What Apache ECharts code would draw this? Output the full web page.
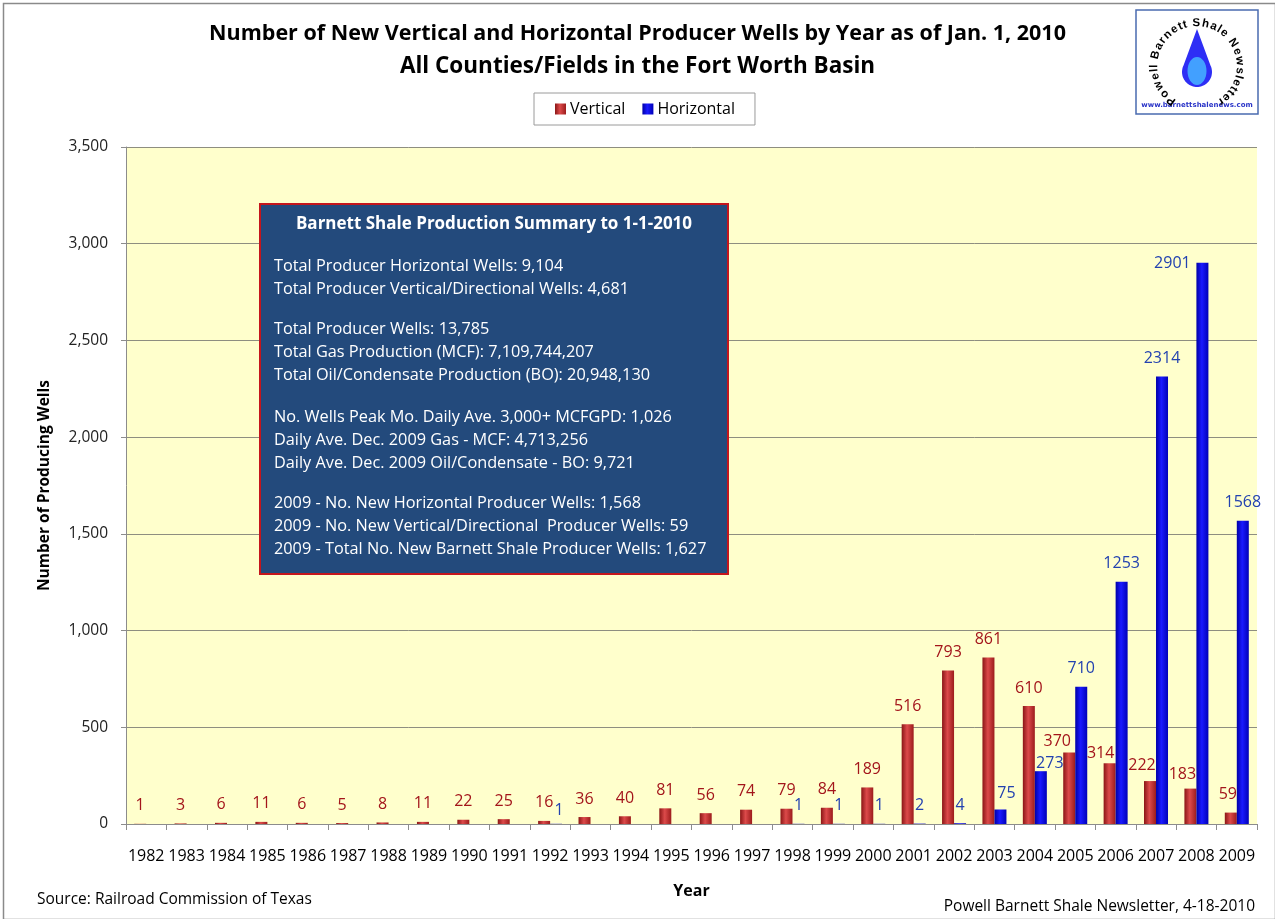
<!DOCTYPE html>
<html>
<head>
<meta charset="utf-8">
<script src="https://cdn.jsdelivr.net/npm/echarts@6/dist/echarts.min.js"></script>
<style>
html,body{margin:0;padding:0;background:#fff;}
#chart{width:1275px;height:919px;}
</style>
</head>
<body>
<div id="chart"></div>
<script>
// ---- data ----
const years = ['1982','1983','1984','1985','1986','1987','1988','1989','1990','1991','1992','1993','1994','1995','1996','1997','1998','1999','2000','2001','2002','2003','2004','2005','2006','2007','2008','2009'];
const vertical = [1,3,6,11,6,5,8,11,22,25,16,36,40,81,56,74,79,84,189,516,793,861,610,370,314,222,183,59];
const horizontal = [null,null,null,null,null,null,null,null,null,null,1,null,null,null,null,null,1,1,1,2,4,75,273,710,1253,2314,2901,1568];
const yTicks = [0,500,1000,1500,2000,2500,3000,3500];

const summaryTitle = 'Barnett Shale Production Summary to 1-1-2010';
const summaryLines = [
  ['Total Producer Horizontal Wells: 9,104','Total Producer Vertical/Directional Wells: 4,681'],
  ['Total Producer Wells: 13,785','Total Gas Production (MCF): 7,109,744,207','Total Oil/Condensate Production (BO): 20,948,130'],
  ['No. Wells Peak Mo. Daily Ave. 3,000+ MCFGPD: 1,026','Daily Ave. Dec. 2009 Gas - MCF: 4,713,256','Daily Ave. Dec. 2009 Oil/Condensate - BO: 9,721'],
  ['2009 - No. New Horizontal Producer Wells: 1,568','2009 - No. New Vertical/Directional  Producer Wells: 59','2009 - Total No. New Barnett Shale Producer Wells: 1,627']
];

// label nudges (pixels) to mimic the hand-placed labels of the original
const redLabelShift = {'2005':[-12,7],'2006':[-9,8],'2007':[-8,2],'2008':[-8,4],'2009':[-3,0]};
const blueLabelShift = {'1992':[3,5],'2003':[6,2],'2004':[9,10],'2008':[-30,19]};

const FONT = '"Open Sans", "Noto Sans", sans-serif';
const chart = echarts.init(document.getElementById('chart'));

function grad(c0, c1, c2){
  return new echarts.graphic.LinearGradient(0,0,1,0,[
    {offset:0,color:c0},{offset:0.45,color:c1},{offset:1,color:c2}]);
}
const redFill = grad('#8a1616','#dc4a4a','#9c1c1c');
const blueFill = grad('#0000a8','#1a1aff','#0000b8');

function build(arr, shift){
  return arr.map((v,i)=>{
    const s = shift[years[i]];
    if (v === null) return {value:null};
    return s ? {value:v, label:{offset:s}} : {value:v};
  });
}

// summary box graphic
const boxX = 260, boxY = 204, boxW = 468, boxH = 370;
const boxChildren = [
  {type:'rect', z:100, shape:{x:0,y:0,width:boxW,height:boxH},
   style:{fill:'#234a7c', stroke:'#c4161c', lineWidth:2}},
  {type:'text', z:101, x:boxW/2, y:20, style:{text:summaryTitle, fill:'#fff',
    font:'bold 17px '+FONT, align:'center', verticalAlign:'middle'}}
];
const groupStarts = [62, 125, 213, 299];
summaryLines.forEach((grp,gi)=>{
  grp.forEach((t,li)=>{
    boxChildren.push({type:'text', z:101, x:14, y:groupStarts[gi]+li*23,
      style:{text:t, fill:'#fff', font:'16.3px '+FONT, align:'left', verticalAlign:'middle'}});
  });
});

// logo graphic
const logoX = 1136, logoY = 10, logoW = 122, logoH = 104;
const lcx = logoW/2, lcy = 52;
const arcText = 'Powell Barnett Shale Newsletter';
// teardrop outline (decorative shape of the logo)
const dropPts = [[lcx, lcy-33]];
for (let a=-25;a<=205;a+=5){
  const rad = a*Math.PI/180;
  dropPts.push([lcx + 15*Math.cos(rad), lcy + 10 + 15*Math.sin(rad)]);
}
const logoChildren = [
  {type:'rect', z:100, shape:{x:0,y:0,width:logoW,height:logoH}, style:{fill:'#fff', stroke:'#4a6bb0', lineWidth:1.5}},
  {type:'polygon', z:101, shape:{points:dropPts}, style:{fill:'#2e2ef5'}},
  {type:'ellipse', z:102, shape:{cx:lcx, cy:lcy+9, rx:9.5, ry:14}, style:{fill:'#42a0ff'}},
  {type:'text', z:101, x:lcx, y:logoH-9, style:{text:'www.barnettshalenews.com', fill:'#2b35c8',
    font:'bold 7px "DejaVu Sans", sans-serif', align:'center', verticalAlign:'middle'}}
];
(function(){
  const r = 43, start = -150, end = 150;
  const font = 'bold 11.5px "Liberation Sans", Arial, sans-serif';
  const ctx = document.createElement('canvas').getContext('2d');
  ctx.font = font;
  const w = arcText.split('').map(c=>ctx.measureText(c).width);
  const total = w.reduce((a,b)=>a+b,0);
  let acc = 0;
  for (let i=0;i<arcText.length;i++){
    const mid = (acc + w[i]/2)/total;
    acc += w[i];
    const th = (start + (end-start)*mid) * Math.PI/180;
    logoChildren.push({type:'text', z:103, x:lcx + r*Math.sin(th), y:lcy + 4 - r*Math.cos(th), rotation:-th,
      style:{text:arcText[i], fill:'#000', font:font, align:'center', verticalAlign:'middle'}});
  }
})();

const option = {
  animation:false,
  backgroundColor:'#fff',
  textStyle:{fontFamily:FONT},
  title:[
    {text:'Number of New Vertical and Horizontal Producer Wells by Year as of Jan. 1, 2010',
     left:'center', top:18, textStyle:{fontSize:21.5, fontWeight:'bold', color:'#000', fontFamily:FONT}},
    {text:'All Counties/Fields in the Fort Worth Basin',
     left:'center', top:50, textStyle:{fontSize:22.5, fontWeight:'bold', color:'#000', fontFamily:FONT}}
  ],
  legend:{
    data:['Vertical','Horizontal'], left:534, top:93, orient:'horizontal',
    padding:[8,20,8,21], borderColor:'#9a9a9a', borderWidth:1, backgroundColor:'#fff',
    itemWidth:11, itemHeight:11, itemGap:17, icon:'rect',
    textStyle:{fontSize:16, color:'#000', fontFamily:FONT, padding:[0,0,0,-1]}
  },
  grid:{left:126, right:18, top:147, bottom:95, show:true, backgroundColor:'#ffffcc', borderWidth:0},
  xAxis:{
    type:'category', data:years,
    name:'Year', nameLocation:'middle', nameGap:59,
    nameTextStyle:{fontSize:16, fontWeight:'bold', color:'#000', fontFamily:FONT},
    axisLine:{lineStyle:{color:'#8c8c8c'}},
    axisTick:{show:true, length:6, lineStyle:{color:'#8c8c8c'}},
    axisLabel:{interval:0, fontSize:16, color:'#000', margin:24, fontFamily:FONT}
  },
  yAxis:{
    type:'value', min:0, max:3500, interval:500,
    name:'Number of Producing Wells', nameLocation:'middle', nameRotate:90, nameGap:73,
    nameTextStyle:{fontSize:15.5, fontWeight:'bold', color:'#000', fontFamily:FONT},
    axisLine:{show:true, lineStyle:{color:'#8c8c8c'}},
    axisTick:{show:true, length:5, lineStyle:{color:'#8c8c8c'}},
    splitLine:{lineStyle:{color:'#8e8e80', width:1}},
    axisLabel:{fontSize:15.5, color:'#222', margin:18, fontFamily:FONT,
      formatter:v=> yTicks.indexOf(v)>=0 ? v.toLocaleString('en-US') : ''}
  },
  series:[
    {name:'Vertical', type:'bar', barWidth:12, barGap:'0%', data:build(vertical, redLabelShift),
     itemStyle:{color:redFill},
     label:{show:true, position:'top', distance:10, fontSize:16, color:'#a3151b', fontFamily:FONT}},
    {name:'Horizontal', type:'bar', barWidth:12, barGap:'0%', data:build(horizontal, blueLabelShift),
     itemStyle:{color:blueFill},
     label:{show:true, position:'top', distance:10, fontSize:16, color:'#2342b0', fontFamily:FONT}}
  ],
  graphic:[
    {type:'rect', left:1, top:1, shape:{x:0,y:0,width:1272,height:916}, silent:true, z:-10,
     style:{fill:'none', stroke:'#8a8a8a', lineWidth:1.5}},
    {type:'group', x:boxX, y:boxY, children:boxChildren, z:100},
    {type:'group', x:logoX, y:logoY, children:logoChildren, z:100},
    {type:'text', left:37, top:892, style:{text:'Source: Railroad Commission of Texas', fill:'#000', font:'15.5px '+FONT}},
    {type:'text', right:20, top:899, style:{text:'Powell Barnett Shale Newsletter, 4-18-2010', fill:'#000', font:'15.5px '+FONT}}
  ]
};
chart.setOption(option);
</script>
</body>
</html>
